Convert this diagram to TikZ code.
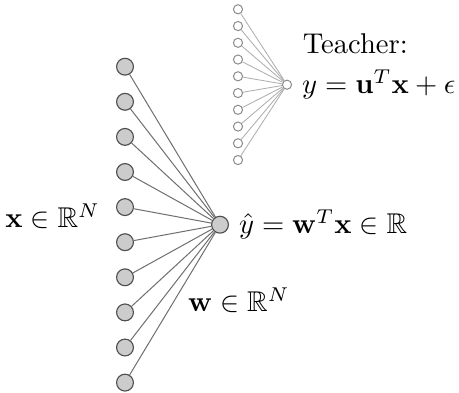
\documentclass[tikz,border=0pt]{standalone}
\usepackage{amsmath}
\usepackage{amssymb}
\usetikzlibrary{positioning}
\definecolor{stF}{RGB}{204,204,204}
\definecolor{stL}{RGB}{80,80,80}
\definecolor{stE}{RGB}{110,110,110}
\definecolor{tcL}{RGB}{140,140,140}
\definecolor{tcE}{RGB}{175,175,175}

\begin{document}
\begin{tikzpicture}[
  x=0.35pt, y=-0.35pt,
  unit/.style={circle, draw=stL, fill=stF, line width=0.4pt, inner sep=0pt, minimum size=5.9pt},
  tunit/.style={circle, draw=tcL, fill=white, line width=0.35pt, inner sep=0pt, minimum size=3.2pt},
  wire/.style={draw=stE, line width=0.35pt},
  twire/.style={draw=tcE, line width=0.3pt},
]
\useasboundingbox (0,0) rectangle (459,392);

% ---------- student ----------
\node[unit] (out) at (220,224.7) {};
\foreach \i in {1,...,10} {
  \node[unit] (x\i) at (125,{66.7+35.1*(\i-1)}) {};
  \draw[wire] (x\i) -- (out);
}

% ---------- teacher ----------
\node[tunit] (tout) at (287,84.7) {};
\foreach \i in {1,...,10} {
  \node[tunit] (u\i) at (238,{9.3+16.75*(\i-1)}) {};
  \draw[twire] (u\i) -- (tout);
}

% ---------- labels ----------
\node[anchor=east] (xlab) at (110,216) {$\mathbf{x}\in\mathbb{R}^N$};
\node[right=0pt of out] (ylab) {$\hat{y}=\mathbf{w}^T\mathbf{x}\in\mathbb{R}$};
\node[anchor=west] (wlab) at (178,300) {$\mathbf{w}\in\mathbb{R}^N$};
\node[right=0pt of tout] (teq) {$y=\mathbf{u}^T\mathbf{x}+\epsilon$};
\node[anchor=south west, inner sep=0pt] (tlab) at ([xshift=3.6pt,yshift=2pt]teq.north west) {Teacher:};

\end{tikzpicture}
\end{document}
